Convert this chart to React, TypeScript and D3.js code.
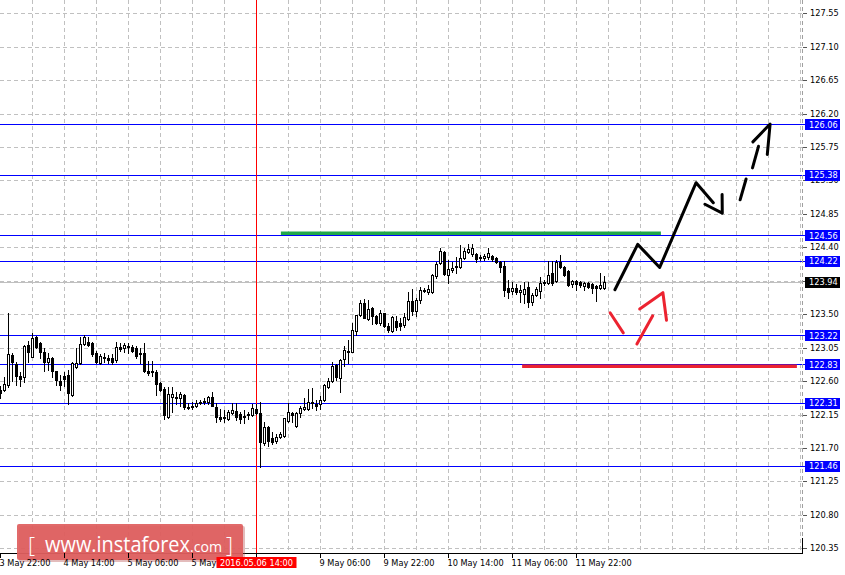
import React from 'react';
import * as d3 from 'd3';

// ---------- DATA (USDJPY H1) ----------
const timeLabels = ["3 May 22:00", "4 May 14:00", "5 May 06:00", "5 May 22:00", "6 May 14:00", "9 May 06:00", "9 May 22:00", "10 May 14:00", "11 May 06:00", "11 May 22:00"];
const timeLabelBars = [0, 16, 32, 48, 64, 80, 96, 112, 128, 144];
const markerBar = 64;
const markerLabel = "2016.05.06 14:00";

const opens = [122.48,122.48,122.55,122.95,122.83,122.67,122.66,123.09,122.93,123.19,123.11,122.99,122.86,122.91,122.74,122.60,122.67,122.68,122.41,122.79,122.84,123.10,123.13,123.11,122.98,122.84,122.93,122.91,122.91,122.88,123.06,123.05,123.07,123.06,123.05,122.98,122.98,122.74,122.72,122.72,122.58,122.49,122.12,122.39,122.39,122.37,122.41,122.25,122.25,122.27,122.31,122.32,122.32,122.39,122.25,122.12,122.10,122.09,122.17,122.20,122.16,122.12,122.15,122.15,122.23,122.17,121.77,121.98,121.84,121.79,121.85,121.86,122.06,122.17,122.00,122.17,122.23,122.23,122.31,122.29,122.29,122.35,122.52,122.60,122.82,122.64,122.90,123.01,122.99,123.27,123.49,123.65,123.44,123.58,123.48,123.38,123.52,123.34,123.27,123.41,123.38,123.36,123.44,123.68,123.54,123.69,123.81,123.80,123.80,124.02,124.19,124.34,124.03,124.10,124.15,124.14,124.26,124.34,124.31,124.31,124.27,124.26,124.27,124.28,124.26,124.20,124.15,123.85,123.81,123.85,123.80,123.77,123.87,123.67,123.76,123.81,123.92,123.92,124.06,123.95,124.20,124.14,124.08,123.91,123.95,123.93,123.88,123.92,123.91,123.88,123.85,123.85];
const highs = [122.54,122.66,123.52,122.98,122.86,122.72,123.09,123.14,123.25,123.21,123.13,123.05,122.98,122.93,122.74,122.68,122.72,122.75,122.86,123.05,123.19,123.22,123.19,123.13,123.01,122.97,122.98,122.95,122.97,123.13,123.11,123.11,123.11,123.09,123.07,123.05,123.11,122.87,122.87,122.75,122.59,122.52,122.52,122.52,122.45,122.45,122.43,122.31,122.32,122.35,122.35,122.37,122.40,122.45,122.31,122.23,122.21,122.21,122.31,122.31,122.19,122.21,122.19,122.29,122.29,122.32,122.05,122.00,121.92,121.89,121.92,122.10,122.31,122.19,122.19,122.27,122.37,122.49,122.51,122.35,122.40,122.56,122.64,122.86,122.83,122.90,123.07,123.15,123.38,123.49,123.69,123.71,123.69,123.60,123.49,123.56,123.52,123.38,123.48,123.48,123.45,123.52,123.80,123.84,123.72,123.87,123.85,123.89,124.04,124.20,124.39,124.35,124.23,124.20,124.27,124.43,124.39,124.45,124.45,124.33,124.30,124.31,124.39,124.30,124.27,124.22,124.22,123.96,123.93,123.91,123.89,123.93,123.93,123.79,123.87,124.00,123.96,124.22,124.22,124.23,124.30,124.15,124.10,123.96,123.96,123.95,123.93,123.93,123.92,123.89,124.06,124.02];
const lows = [122.37,122.47,122.52,122.60,122.55,122.54,122.59,122.86,122.93,123.05,122.91,122.74,122.75,122.66,122.55,122.48,122.54,122.29,122.40,122.78,122.83,123.09,123.07,122.94,122.84,122.83,122.86,122.84,122.83,122.86,123.01,122.99,122.98,122.99,122.91,122.84,122.72,122.68,122.67,122.41,122.47,122.09,122.10,122.19,122.29,122.27,122.23,122.23,122.23,122.25,122.29,122.29,122.29,122.27,122.05,122.06,122.05,122.08,122.16,122.08,122.04,122.04,122.09,122.13,122.16,121.44,121.74,121.73,121.75,121.77,121.84,121.85,122.05,122.05,121.98,122.12,122.21,122.21,122.24,122.21,122.23,122.33,122.51,122.59,122.62,122.45,122.80,122.84,122.99,123.22,123.48,123.45,123.42,123.37,123.37,123.36,123.33,123.26,123.26,123.29,123.29,123.33,123.42,123.49,123.48,123.65,123.80,123.77,123.79,123.99,124.18,124.03,123.92,124.07,124.06,124.12,124.24,124.33,124.28,124.20,124.23,124.23,124.24,124.22,124.19,124.07,123.75,123.72,123.77,123.77,123.67,123.65,123.60,123.63,123.75,123.72,123.89,123.91,123.89,123.93,124.12,124.02,123.88,123.87,123.83,123.87,123.83,123.85,123.79,123.68,123.84,123.84];
const closes = [122.44,122.56,122.97,122.86,122.67,122.63,123.07,122.99,123.18,123.06,122.99,122.86,122.91,122.74,122.62,122.55,122.63,122.44,122.84,122.84,123.10,123.19,123.09,122.97,122.86,122.94,122.91,122.88,122.86,123.06,123.03,123.09,123.06,123.01,122.94,122.97,122.74,122.71,122.73,122.56,122.48,122.15,122.43,122.43,122.37,122.43,122.25,122.24,122.27,122.31,122.32,122.33,122.39,122.27,122.12,122.09,122.12,122.19,122.21,122.12,122.09,122.13,122.16,122.24,122.17,121.78,121.98,121.79,121.78,121.85,121.89,122.10,122.19,122.15,122.17,122.24,122.25,122.32,122.32,122.27,122.35,122.55,122.60,122.80,122.66,122.88,123.02,122.99,123.29,123.49,123.65,123.45,123.57,123.48,123.38,123.52,123.34,123.29,123.46,123.33,123.34,123.46,123.68,123.54,123.69,123.83,123.83,123.84,124.03,124.18,124.35,124.04,124.11,124.12,124.14,124.26,124.35,124.38,124.39,124.24,124.26,124.28,124.33,124.24,124.20,124.14,123.83,123.80,123.85,123.80,123.83,123.84,123.67,123.76,123.84,123.92,123.93,124.03,123.92,124.20,124.14,124.03,123.89,123.95,123.91,123.89,123.92,123.87,123.85,123.85,123.89,123.94];

const priceTicks = [127.55, 127.10, 126.65, 126.20, 125.75, 125.30, 124.85, 124.40, 123.95, 123.50, 123.05, 122.60, 122.15, 121.70, 121.25, 120.80, 120.35];
const levelLines = [126.06, 125.38, 124.56, 124.22, 123.22, 122.83, 122.31, 121.46];
const currentPrice = 123.94;

// analyst annotations, in (bar, price)
const greenLevel = { from: 70.1, to: 165.1, price: 124.59 };
const redLevel = { from: 130.4, to: 199.1, price: 122.80 };
const blackPath: [number, number][] = [[153.6, 123.83], [159.3, 124.44], [164.8, 124.13], [173.9, 125.27], [178.2, 125.0]];
const blackHead: [number, number][] = [[176.1, 124.98], [180.45, 124.86], [180.4, 125.11]];
const blackDashes: [number, number][][] = [
  [[184.9, 125.04], [186.4, 125.32]],
  [[188.0, 125.47], [189.5, 125.76]],
];
const blackDashHead: [number, number][] = [[188.1, 125.82], [192.4, 126.06], [191.7, 125.65]];
const redSegs: [number, number][][] = [
  [[152.4, 123.52], [155.7, 123.25]],
  [[159.1, 123.10], [163.05, 123.48]],
];
const redHead: [number, number][] = [[159.8, 123.57], [165.6, 123.79], [166.5, 123.42]];

// ---------- LAYOUT ----------
const W = 845, H = 575;
const plotRight = 802;
const plotBottom = 553;
const FONT = "DejaVu Sans";
const FS = 8.2;

const x = d3.scaleLinear().domain([0, 200]).range([0.5, 800.5]);
const y = d3.scaleLinear().domain([120.35, 127.55]).range([548.3, 13.3]);
const py = (p: number) => Math.round(y(p)) + 0.5;

const lineGen = d3.line<[number, number]>().x(d => x(d[0])).y(d => y(d[1]));

export default function App() {
  const gridX = d3.range(8, 201, 8);
  return (
    <svg width={W} height={H} style={{ position: 'absolute', left: 0, top: 0, display: 'block', background: '#fff' }}
      fontFamily={FONT} fontSize={FS}>
      <rect x={0} y={0} width={W} height={H} fill="#ffffff" />
      {/* grid */}
      <g stroke="#c0c0c0" strokeWidth={1} strokeDasharray="4,3" shapeRendering="crispEdges">
        {gridX.map(b => <line key={'gx' + b} x1={x(b)} x2={x(b)} y1={0} y2={plotBottom} />)}
        {priceTicks.map(p => <line key={'gy' + p} x1={0} x2={plotRight} y1={py(p)} y2={py(p)} />)}
      </g>
      {/* current price line */}
      <line x1={0} x2={plotRight} y1={py(currentPrice)} y2={py(currentPrice)} stroke="#c0c0c0" strokeWidth={1} shapeRendering="crispEdges" />
      {/* level lines */}
      <g stroke="#0000ff" strokeWidth={1} shapeRendering="crispEdges">
        {levelLines.map(p => <line key={'lv' + p} x1={0} x2={805} y1={py(p)} y2={py(p)} />)}
      </g>
      {/* marker vertical */}
      <line x1={x(markerBar)} x2={x(markerBar)} y1={0} y2={plotBottom} stroke="#ff0000" strokeWidth={1} shapeRendering="crispEdges" />
      {/* candles */}
      <g shapeRendering="crispEdges">
        {opens.map((o, i) => {
          const c = closes[i];
          const cx = x(i);
          const yh = Math.round(y(highs[i]));
          const yl = Math.round(y(lows[i]));
          const yt = Math.round(y(Math.max(o, c))) + 0.5;
          const yb = Math.round(y(Math.min(o, c))) + 0.5;
          const bull = c > o;
          return (
            <g key={'c' + i}>
              <line x1={cx} x2={cx} y1={yh} y2={yl + 1} stroke="#000" strokeWidth={1} />
              {yb - yt >= 1 ? (
                <rect x={cx - 1} y={yt} width={2} height={yb - yt} fill={bull ? '#fff' : '#000'} stroke="#000" strokeWidth={1} />
              ) : (
                <line x1={cx - 1.5} x2={cx + 1.5} y1={yt} y2={yt} stroke="#000" strokeWidth={1} />
              )}
            </g>
          );
        })}
      </g>
      {/* analyst levels */}
      <line x1={x(greenLevel.from)} x2={x(greenLevel.to)} y1={y(greenLevel.price)} y2={y(greenLevel.price)} stroke="#22a84a" strokeWidth={3.5} />
      <line x1={x(redLevel.from)} x2={x(redLevel.to)} y1={y(redLevel.price)} y2={y(redLevel.price)} stroke="#ec2330" strokeWidth={3.5} />
      {/* arrows */}
      <g fill="none" strokeWidth={3} strokeLinecap="round" strokeLinejoin="round">
        <path d={lineGen(blackPath) || ''} stroke="#000" />
        <path d={lineGen(blackHead) || ''} stroke="#000" />
        {blackDashes.map((s, k) => <path key={'bd' + k} d={lineGen(s) || ''} stroke="#000" />)}
        <path d={lineGen(blackDashHead) || ''} stroke="#000" />
        {redSegs.map((s, k) => <path key={'rs' + k} d={lineGen(s) || ''} stroke="#ec2330" />)}
        <path d={lineGen(redHead) || ''} stroke="#ec2330" />
      </g>
      {/* axes */}
      <line x1={plotRight + 0.5} x2={plotRight + 0.5} y1={0} y2={plotBottom} stroke="#a0a0a0" strokeDasharray="4,3" shapeRendering="crispEdges" />
      <line x1={plotRight + 0.5} x2={plotRight + 0.5} y1={538} y2={plotBottom + 1} stroke="#000" shapeRendering="crispEdges" />
      <line x1={0} x2={plotRight + 1} y1={plotBottom + 0.5} y2={plotBottom + 0.5} stroke="#000" shapeRendering="crispEdges" />
      {/* right axis ticks & labels */}
      <g>
        {priceTicks.map(p => (
          <g key={'pt' + p}>
            <line x1={plotRight + 1} x2={plotRight + 5} y1={py(p)} y2={py(p)} stroke="#555" shapeRendering="crispEdges" />
            <text x={810} y={y(p) + 3} fill="#000">{p.toFixed(2)}</text>
          </g>
        ))}
      </g>
      {/* level boxes */}
      {levelLines.map(p => (
        <g key={'lb' + p}>
          <rect x={805} y={Math.round(y(p)) - 5} width={35} height={11} fill="#0000ff" />
          <text x={809} y={y(p) + 3.5} fill="#fff">{p.toFixed(2)}</text>
        </g>
      ))}
      <g>
        <rect x={805} y={Math.round(y(currentPrice)) - 5} width={35} height={11} fill="#000" />
        <text x={809} y={y(currentPrice) + 3.5} fill="#fff">{currentPrice.toFixed(2)}</text>
      </g>
      {/* logo */}
      <g>
        <rect x={19} y={526} width={226} height={36} fill="#b04040" opacity={0.35} rx={2} />
        <rect x={17} y={524} width={226} height={36} fill="#df5f5f" opacity={0.93} rx={2} />
        <text x={28} y={553} fill="#fff" fontFamily="Open Sans" fontSize={22} fontWeight={300}>[</text>
        <text x={45} y={552} fill="#fff" fontFamily="Open Sans" fontSize={22} textLength={145} lengthAdjust="spacingAndGlyphs">www.instaforex</text>
        <text x={190} y={552} fill="#fff" fontFamily="Open Sans" fontSize={15} textLength={32} lengthAdjust="spacingAndGlyphs">.com</text>
        <text x={226} y={553} fill="#fff" fontFamily="Open Sans" fontSize={22} fontWeight={300}>]</text>
      </g>
      {/* bottom axis ticks & labels */}
      <g>
        {timeLabelBars.map((b, k) => (
          <g key={'tl' + b}>
            <line x1={x(b)} x2={x(b)} y1={plotBottom} y2={plotBottom + 5} stroke="#000" shapeRendering="crispEdges" />
            {b !== markerBar && <text x={x(b) - 1} y={566} fill="#000">{timeLabels[k]}</text>}
          </g>
        ))}
      </g>
      <g>
        <rect x={x(markerBar) - 40} y={557} width={80} height={11} fill="#ff0000" />
        <text x={x(markerBar)} y={566} fill="#fff" textAnchor="middle">{markerLabel}</text>
      </g>
    </svg>
  );
}
